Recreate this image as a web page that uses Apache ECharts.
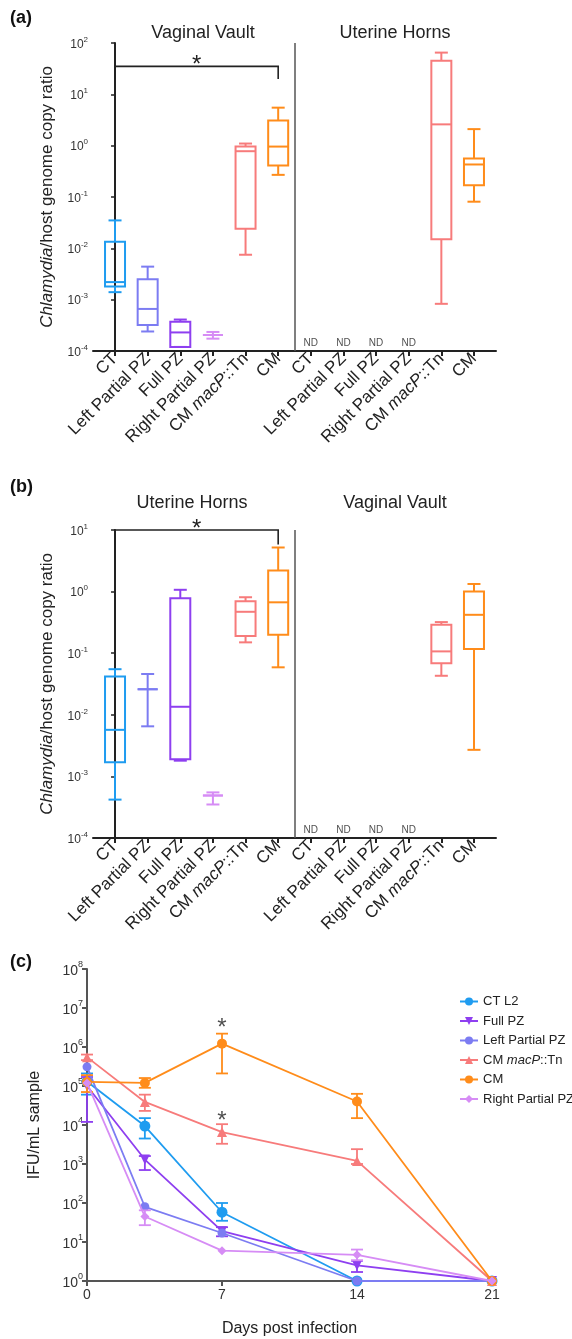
<!DOCTYPE html>
<html>
<head>
<meta charset="utf-8">
<script src="https://cdn.jsdelivr.net/npm/echarts@6/dist/echarts.min.js"></script>
<style>
html,body{margin:0;padding:0;background:#fff;}
#chart{width:572px;height:1339px;}
</style>
</head>
<body>
<div id="chart"></div>
<script>
// ---------------- DATA ----------------
const groups = ['CT', 'Left Partial PZ', 'Full PZ', 'Right Partial PZ', 'CM macP::Tn', 'CM'];
const groupColors = ['#1f9cf0', '#7c7cf2', '#8e3ff0', '#d68cf5', '#f77b7b', '#ff8c1a'];

// box plots: [min, q1, median, q3, max]
const aVaginalVault = [
  [0.0014, 0.0018, 0.0022, 0.0135, 0.035],
  [0.00024, 0.00032, 0.00066, 0.0025, 0.0044],
  [0.00012, 0.00012, 0.00023, 0.00037, 0.00041],
  [0.000174, 0.000205, 0.000205, 0.000205, 0.000235],
  [0.0075, 0.024, 0.78, 0.96, 1.1],
  [0.27, 0.41, 0.96, 3.1, 5.5]
];
const aUterineHorns = [null, null, null, null,
  [0.00083, 0.015, 2.6, 45, 65],
  [0.081, 0.17, 0.43, 0.56, 2.1]
];
const bUterineHorns = [
  [0.00042, 0.0017, 0.0057, 0.042, 0.055],
  [0.0065, 0.026, 0.026, 0.026, 0.046],
  [0.0018, 0.0019, 0.0135, 0.78, 1.07],
  [0.00035, 0.00049, 0.00049, 0.00049, 0.00055],
  [0.15, 0.19, 0.47, 0.70, 0.81],
  [0.059, 0.20, 0.67, 2.2, 5.2]
];
const bVaginalVault = [null, null, null, null,
  [0.043, 0.069, 0.107, 0.29, 0.32],
  [0.0027, 0.117, 0.42, 1.0, 1.33]
];
// significance brackets: [fromCategory, toCategory, bracketTop, bracketFoot]
const sigA = [0, 5, 35, 20];
const sigB = [0, 5, 10, 5.8];

// panel c
const days = [0, 3, 7, 14, 21];
const lineNames = ['CT L2', 'Full PZ', 'Left Partial PZ', 'CM macP::Tn', 'CM', 'Right Partial PZ'];
const ctL2 = [1.3e5, 9.4e3, 58, 1, 1];
const fullPZ = [1.0e5, 1.3e3, 19, 2.5, 1];
const leftPartialPZ = [3.1e5, 80, 17, 1, 1];
const cmMacP = [5.5e5, 3.9e4, 6.6e3, 1.2e3, 1];
const cm = [1.27e5, 1.2e5, 1.22e6, 4.0e4, 1];
const rightPartialPZ = [1.2e5, 45, 6, 4.7, 1];
// error bars [low, high] per day
const ctL2Err = [[6e4, 2.1e5], [4.5e3, 1.5e4], [35, 100], null, null];
const fullPZErr = [[1.2e4, 1.7e5], [7e2, 1.6e3], [14, 24], [1.7, 3.3], null];
const leftPartialPZErr = [null, null, null, null, null];
const cmMacPErr = [[4.6e5, 6.4e5], [2.3e4, 6.0e4], [3.3e3, 1.05e4], [1.0e3, 2.4e3], null];
const cmErr = [[7e4, 1.9e5], [9e4, 1.6e5], [2.1e5, 2.2e6], [1.5e4, 6.3e4], null];
const rightPartialPZErr = [null, [27, 65], null, [3.4, 6.4], null];
const sigC = [[7, 4.2e6], [7, 1.8e4]];

const lineColors = ['#1f9cf0', '#8e3ff0', '#7c7cf2', '#f77b7b', '#ff8c1a', '#d68cf5'];
const lineSymbols = ['circle', 'triangle', 'circle', 'triangle', 'circle', 'diamond'];
const lineSymbolSizes = [11, 10, 9, 10, 10, 9];
const lineSymbolRotate = [0, 180, 0, 0, 0, 0];
const lineValues = [ctL2, fullPZ, leftPartialPZ, cmMacP, cm, rightPartialPZ];
const lineErrs = [ctL2Err, fullPZErr, leftPartialPZErr, cmMacPErr, cmErr, rightPartialPZErr];

// ---------------- HELPERS ----------------
const FF = 'Liberation Sans, Arial, Helvetica, sans-serif';
const dark = '#222';

function boxData(left, right) {
  const out = [];
  left.forEach((b, i) => { if (b) out.push([i, ...b, i]); });
  right.forEach((b, i) => { if (b) out.push([i + 6, ...b, i]); });
  return out;
}
function ndData(right) {
  const out = [];
  right.forEach((b, i) => { if (!b) out.push([i + 6, 1e-4]); });
  return out;
}
function renderBox(params, api) {
  const x = api.value(0);
  const pMin = api.coord([x, api.value(1)]);
  const pQ1 = api.coord([x, api.value(2)]);
  const pMed = api.coord([x, api.value(3)]);
  const pQ3 = api.coord([x, api.value(4)]);
  const pMax = api.coord([x, api.value(5)]);
  const color = groupColors[api.value(6)];
  const bw = 10, cw = 6.5;
  const cx = pMed[0];
  const st = { stroke: color, lineWidth: 2, fill: null };
  return {
    type: 'group',
    children: [
      { type: 'line', shape: { x1: cx, y1: pMax[1], x2: cx, y2: pQ3[1] }, style: st },
      { type: 'line', shape: { x1: cx, y1: pQ1[1], x2: cx, y2: pMin[1] }, style: st },
      { type: 'line', shape: { x1: cx - cw, y1: pMax[1], x2: cx + cw, y2: pMax[1] }, style: st },
      { type: 'line', shape: { x1: cx - cw, y1: pMin[1], x2: cx + cw, y2: pMin[1] }, style: st },
      { type: 'rect', shape: { x: cx - bw, y: pQ3[1], width: 2 * bw, height: pQ1[1] - pQ3[1] }, style: { stroke: color, lineWidth: 2, fill: 'none' } },
      { type: 'line', shape: { x1: cx - bw, y1: pMed[1], x2: cx + bw, y2: pMed[1] }, style: st }
    ]
  };
}
function renderBracket(params, api) {
  const p0 = api.coord([api.value(0), api.value(3)]);
  const p1 = api.coord([api.value(0), api.value(2)]);
  const p2 = api.coord([api.value(1), api.value(2)]);
  const p3 = api.coord([api.value(1), api.value(3)]);
  return {
    type: 'group',
    children: [
      { type: 'polyline', shape: { points: [p0, p1, p2, p3] }, style: { stroke: dark, lineWidth: 1.6, fill: null } },
      { type: 'text', x: (p1[0] + p2[0]) / 2, y: p1[1] + 11, style: { text: '*', fontSize: 24, fontFamily: FF, fill: dark, align: 'center', verticalAlign: 'bottom' } }
    ]
  };
}
function renderErr(color) {
  return function (params, api) {
    const lo = api.coord([api.value(0), api.value(1)]);
    const hi = api.coord([api.value(0), api.value(2)]);
    const cw = 6;
    const st = { stroke: color, lineWidth: 1.8 };
    return {
      type: 'group',
      children: [
        { type: 'line', shape: { x1: lo[0], y1: lo[1], x2: hi[0], y2: hi[1] }, style: st },
        { type: 'line', shape: { x1: lo[0] - cw, y1: lo[1], x2: lo[0] + cw, y2: lo[1] }, style: st },
        { type: 'line', shape: { x1: hi[0] - cw, y1: hi[1], x2: hi[0] + cw, y2: hi[1] }, style: st }
      ]
    };
  };
}
function supFmt(v) {
  const e = Math.round(Math.log10(v));
  return '{b|10}{s|' + (e < 0 ? '-' + (-e) : e) + '}';
}
function catFmt(v) {
  const name = groups[Math.round(v) % 6];
  if (name === 'CM macP::Tn') return '{n|CM }{i|macP}{n|::Tn}';
  return '{n|' + name + '}';
}
const catIdx = [0, 1, 2, 3, 4, 5, 6, 7, 8, 9, 10, 11];

function boxXAxis(gi) {
  return {
    type: 'value', gridIndex: gi, min: -0.675, max: 11.675,
    splitLine: { show: false },
    axisLine: { show: true, lineStyle: { color: dark, width: 2 } },
    axisTick: { show: true, customValues: catIdx, length: 5, lineStyle: { color: dark, width: 2 } },
    axisLabel: {
      show: true, customValues: catIdx, rotate: 45, margin: 5, formatter: catFmt,
      rich: {
        n: { fontSize: 17, fontFamily: FF, color: dark },
        i: { fontSize: 17, fontFamily: FF, color: dark, fontStyle: 'italic' }
      }
    }
  };
}
function boxYAxis(gi, max) {
  return {
    type: 'log', gridIndex: gi, min: 1e-4, max: max, logBase: 10,
    splitLine: { show: false },
    axisLine: { show: true, lineStyle: { color: dark, width: 2 } },
    axisTick: { show: true, length: 4, lineStyle: { color: dark, width: 1.5 } },
    axisLabel: {
      formatter: supFmt, margin: 5,
      rich: {
        b: { fontSize: 12, fontFamily: FF, color: '#333', lineHeight: 15, verticalAlign: 'bottom' },
        s: { fontSize: 8, fontFamily: FF, color: '#333', lineHeight: 9, verticalAlign: 'top' }
      }
    },
    name: '{i|Chlamydia}{n|/host genome copy ratio}',
    nameLocation: 'middle', nameGap: 37, nameRotate: 90,
    nameTextStyle: {
      rich: {
        i: { fontSize: 17, fontFamily: FF, color: dark, fontStyle: 'italic' },
        n: { fontSize: 17, fontFamily: FF, color: dark }
      }
    }
  };
}

function boxPanelSeries(gi, left, right, sig) {
  return [
    {
      type: 'custom', xAxisIndex: gi, yAxisIndex: gi, renderItem: renderBox,
      data: boxData(left, right), silent: true, z: 3
    },
    {
      type: 'custom', xAxisIndex: gi, yAxisIndex: gi, renderItem: renderBracket,
      data: [sig], silent: true, z: 3
    },
    {
      type: 'scatter', xAxisIndex: gi, yAxisIndex: gi, symbolSize: 0, silent: true,
      data: ndData(right),
      label: { show: true, position: 'top', distance: 3, formatter: 'ND', fontSize: 10, fontFamily: FF, color: dark },
      markLine: {
        silent: true, symbol: 'none', label: { show: false },
        lineStyle: { color: '#555', width: 1.5, type: 'solid' },
        data: [{ xAxis: 5.5 }]
      }
    }
  ];
}

// ---------------- OPTION ----------------
const series = [];
series.push(...boxPanelSeries(0, aVaginalVault, aUterineHorns, sigA));
series.push(...boxPanelSeries(1, bUterineHorns, bVaginalVault, sigB));

lineNames.forEach((name, k) => {
  series.push({
    type: 'line', name: name, xAxisIndex: 2, yAxisIndex: 2,
    data: days.map((d, j) => [d, lineValues[k][j]]),
    symbol: lineSymbols[k], symbolSize: lineSymbolSizes[k], symbolRotate: lineSymbolRotate[k],
    showSymbol: true,
    lineStyle: { color: lineColors[k], width: 1.8 },
    itemStyle: { color: lineColors[k] },
    z: 4 + k, silent: true
  });
  const errData = [];
  lineErrs[k].forEach((e, j) => { if (e) errData.push([days[j], e[0], e[1]]); });
  series.push({
    type: 'custom', xAxisIndex: 2, yAxisIndex: 2, renderItem: renderErr(lineColors[k]),
    data: errData, silent: true, z: 4 + k
  });
});
series.push({
  type: 'scatter', xAxisIndex: 2, yAxisIndex: 2, symbolSize: 0, silent: true,
  data: sigC,
  label: { show: true, position: 'inside', offset: [0, 6], formatter: '*', fontSize: 24, fontFamily: FF, color: dark }
});

const option = {
  animation: false,
  backgroundColor: '#fff',
  textStyle: { fontFamily: FF },
  grid: [
    { left: 93, top: 43, width: 403, height: 308 },
    { left: 93, top: 530, width: 403, height: 308 },
    { left: 87, top: 969, width: 405, height: 312 }
  ],
  xAxis: [
    boxXAxis(0),
    boxXAxis(1),
    {
      type: 'value', gridIndex: 2, min: 0, max: 21, interval: 7,
      splitLine: { show: false },
      axisLine: { show: true, lineStyle: { color: '#555', width: 2 } },
      axisTick: { show: true, length: 5, lineStyle: { color: '#555', width: 2 } },
      axisLabel: { fontSize: 14, fontFamily: FF, color: '#333', margin: 7 },
      name: 'Days post infection', nameLocation: 'middle', nameGap: 40,
      nameTextStyle: { fontSize: 16, fontFamily: FF, color: dark }
    }
  ],
  yAxis: [
    boxYAxis(0, 1e2),
    boxYAxis(1, 1e1),
    {
      type: 'log', gridIndex: 2, min: 1, max: 1e8, logBase: 10,
      splitLine: { show: false },
      axisLine: { show: true, lineStyle: { color: '#555', width: 2 } },
      axisTick: { show: true, length: 5, lineStyle: { color: '#555', width: 2 } },
      axisLabel: {
        formatter: supFmt, margin: 4,
        rich: {
          b: { fontSize: 14, fontFamily: FF, color: '#333', lineHeight: 18, verticalAlign: 'bottom' },
          s: { fontSize: 9, fontFamily: FF, color: '#333', lineHeight: 10, verticalAlign: 'top' }
        }
      },
      name: 'IFU/mL sample', nameLocation: 'middle', nameGap: 44, nameRotate: 90,
      nameTextStyle: { fontSize: 16, fontFamily: FF, color: dark }
    }
  ],
  legend: {
    data: lineNames,
    orient: 'vertical', left: 454, top: 990,
    itemWidth: 18, itemHeight: 10, itemGap: 6.5,
    formatter: function (n) { return n === 'CM macP::Tn' ? '{n|CM }{i|macP}{n|::Tn}' : '{n|' + n + '}'; },
    textStyle: {
      fontSize: 13, fontFamily: FF, color: dark,
      rich: {
        n: { fontSize: 13, fontFamily: FF, color: dark },
        i: { fontSize: 13, fontFamily: FF, color: dark, fontStyle: 'italic' }
      }
    },
    selectedMode: false
  },
  graphic: [
    { type: 'text', x: 10, y: 9, style: { text: '(a)', fontSize: 18, fontWeight: 'bold', fontFamily: FF, fill: '#111' } },
    { type: 'text', x: 10, y: 478, style: { text: '(b)', fontSize: 18, fontWeight: 'bold', fontFamily: FF, fill: '#111' } },
    { type: 'text', x: 10, y: 953, style: { text: '(c)', fontSize: 18, fontWeight: 'bold', fontFamily: FF, fill: '#111' } },
    { type: 'text', x: 203, y: 33, style: { text: 'Vaginal Vault', fontSize: 18, fontFamily: FF, fill: dark, align: 'center', verticalAlign: 'middle' } },
    { type: 'text', x: 395, y: 33, style: { text: 'Uterine Horns', fontSize: 18, fontFamily: FF, fill: dark, align: 'center', verticalAlign: 'middle' } },
    { type: 'text', x: 192, y: 503, style: { text: 'Uterine Horns', fontSize: 18, fontFamily: FF, fill: dark, align: 'center', verticalAlign: 'middle' } },
    { type: 'text', x: 395, y: 503, style: { text: 'Vaginal Vault', fontSize: 18, fontFamily: FF, fill: dark, align: 'center', verticalAlign: 'middle' } }
  ],
  series: series
};

const chart = echarts.init(document.getElementById('chart'), null, { renderer: 'canvas' });
chart.setOption(option);
</script>
</body>
</html>
